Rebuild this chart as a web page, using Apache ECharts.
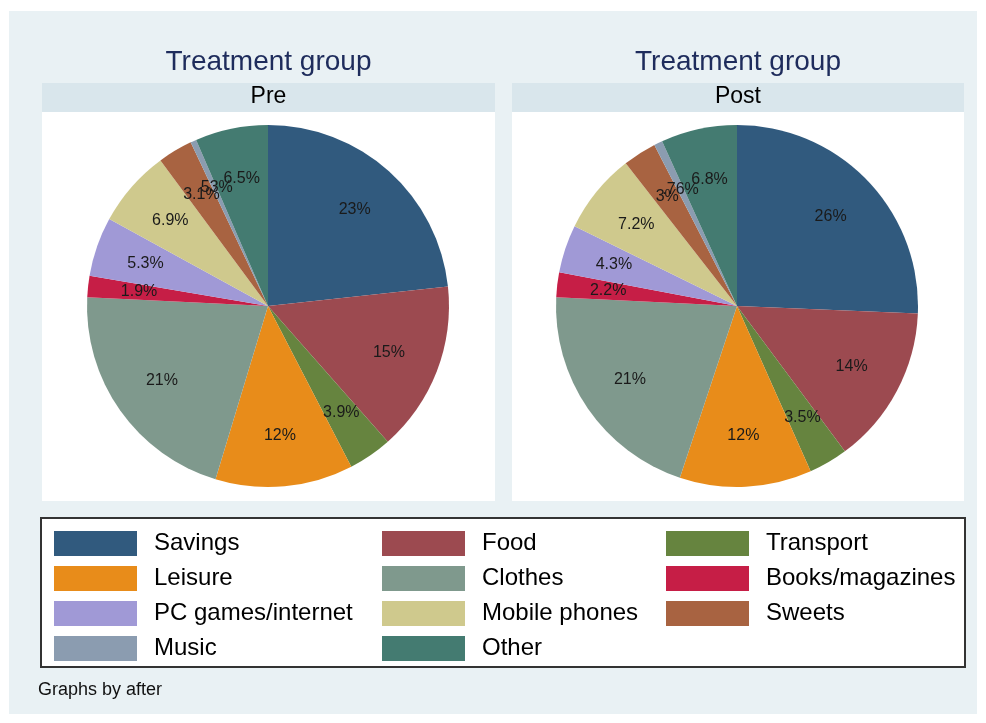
<!DOCTYPE html>
<html>
<head>
<meta charset="utf-8">
<script src="https://cdn.jsdelivr.net/npm/echarts@6/dist/echarts.min.js"></script>
<style>
  html, body { margin: 0; padding: 0; background: #fff; }
  #chart { width: 986px; height: 723px; }
</style>
</head>
<body>
<div id="chart"></div>
<script>
// categories in the order Stata draws them (clockwise from 12 o'clock)
const categories = [
  "Savings", "Food", "Transport", "Leisure", "Clothes", "Books/magazines",
  "PC games/internet", "Mobile phones", "Sweets", "Music", "Other",
];
const colors = [
  "#315a7e", "#9c4a50", "#66843f", "#e88c1a", "#7f998d", "#c61e46",
  "#a099d6", "#cfc98d", "#a86341", "#8b9cb0", "#447b71",
];
// shares in percent
const preValues = [23.3, 15.2, 3.9, 12.3, 21.1, 1.9, 5.3, 6.9, 3.1, 0.53, 6.5];
const postValues = [25.7, 14.2, 3.5, 11.8, 20.7, 2.2, 4.3, 7.2, 3.0, 0.76, 6.8];
const panelLabels = ["Pre", "Post"];
const legendColumns = [
  ["Savings", "Leisure", "PC games/internet", "Music"],
  ["Food", "Clothes", "Mobile phones", "Other"],
  ["Transport", "Books/magazines", "Sweets"],
];

const FONT = "'Liberation Sans', Arial, sans-serif";
const PIE_R = 181;
const panels = [
  { x: 42, w: 453, cx: 268, values: preValues },
  { x: 512, w: 452, cx: 737, values: postValues },
];

// Stata-like %9.2g label: two significant digits, no leading zero
function fmtShare(v) {
  let s = String(parseFloat(v.toPrecision(2)));
  if (s.startsWith("0.")) s = s.slice(1);
  return s + "%";
}

const chart = echarts.init(document.getElementById("chart"));

const graphics = [
  { type: "rect", z: 0, shape: { x: 9, y: 11, width: 968, height: 703 }, style: { fill: "#e9f1f4" } },
];
panels.forEach((p, i) => {
  graphics.push(
    { type: "rect", z: 0, shape: { x: p.x, y: 112, width: p.w, height: 389 }, style: { fill: "#ffffff" } },
    { type: "rect", z: 0, shape: { x: p.x, y: 83, width: p.w, height: 29 }, style: { fill: "#d9e6ec" } },
    {
      type: "text", z: 1, x: p.x + p.w / 2, y: 62,
      style: { text: "Treatment group", fill: "#1e2c5c", font: "28px " + FONT, align: "center", verticalAlign: "middle" },
    },
    {
      type: "text", z: 1, x: p.x + p.w / 2, y: 97,
      style: { text: panelLabels[i], fill: "#000000", font: "23px " + FONT, align: "center", verticalAlign: "middle" },
    },
  );
});
graphics.push(
  { type: "rect", z: 0, shape: { x: 41, y: 518, width: 924, height: 149 }, style: { fill: "#ffffff", stroke: "#333", lineWidth: 2 } },
  {
    type: "text", z: 1, x: 38, y: 690,
    style: { text: "Graphs by after", fill: "#111", font: "18px " + FONT, align: "left", verticalAlign: "middle" },
  },
);

const series = [];
panels.forEach((p) => {
  const data = categories.map((name, i) => ({ name, value: p.values[i], itemStyle: { color: colors[i] } }));
  series.push({
    type: "pie",
    center: [p.cx, 306],
    radius: PIE_R,
    startAngle: 90,
    clockwise: true,
    silent: true,
    animation: false,
    label: { show: false },
    labelLine: { show: false },
    itemStyle: { borderWidth: 0 },
    data,
  });
  // invisible twin pie, larger, so the inside labels land at ~0.7 of the real radius
  series.push({
    type: "pie",
    center: [p.cx, 306],
    radius: PIE_R * 1.4,
    startAngle: 90,
    clockwise: true,
    silent: true,
    animation: false,
    avoidLabelOverlap: false,
    minShowLabelAngle: 0,
    z: 3,
    itemStyle: { color: "rgba(0,0,0,0)", borderWidth: 0 },
    label: {
      show: true,
      position: "inside",
      color: "#1a1a1a",
      fontFamily: FONT,
      fontSize: 16,
      formatter: (params) => fmtShare(params.value),
    },
    labelLayout: { hideOverlap: false },
    labelLine: { show: false },
    data: categories.map((name, i) => ({ name, value: p.values[i] })),
  });
});

const legendLeft = [54, 382, 666];
const legends = legendColumns.map((names, i) => ({
  data: names,
  orient: "vertical",
  left: legendLeft[i],
  top: 531,
  padding: 0,
  itemWidth: 83,
  itemHeight: 25,
  itemGap: 10,
  icon: "rect",
  selectedMode: false,
  textStyle: { fontFamily: FONT, fontSize: 24, color: "#000", padding: [0, 0, 0, 12] },
}));

chart.setOption({
  animation: false,
  color: colors,
  graphic: graphics,
  legend: legends,
  series,
});
</script>
</body>
</html>
